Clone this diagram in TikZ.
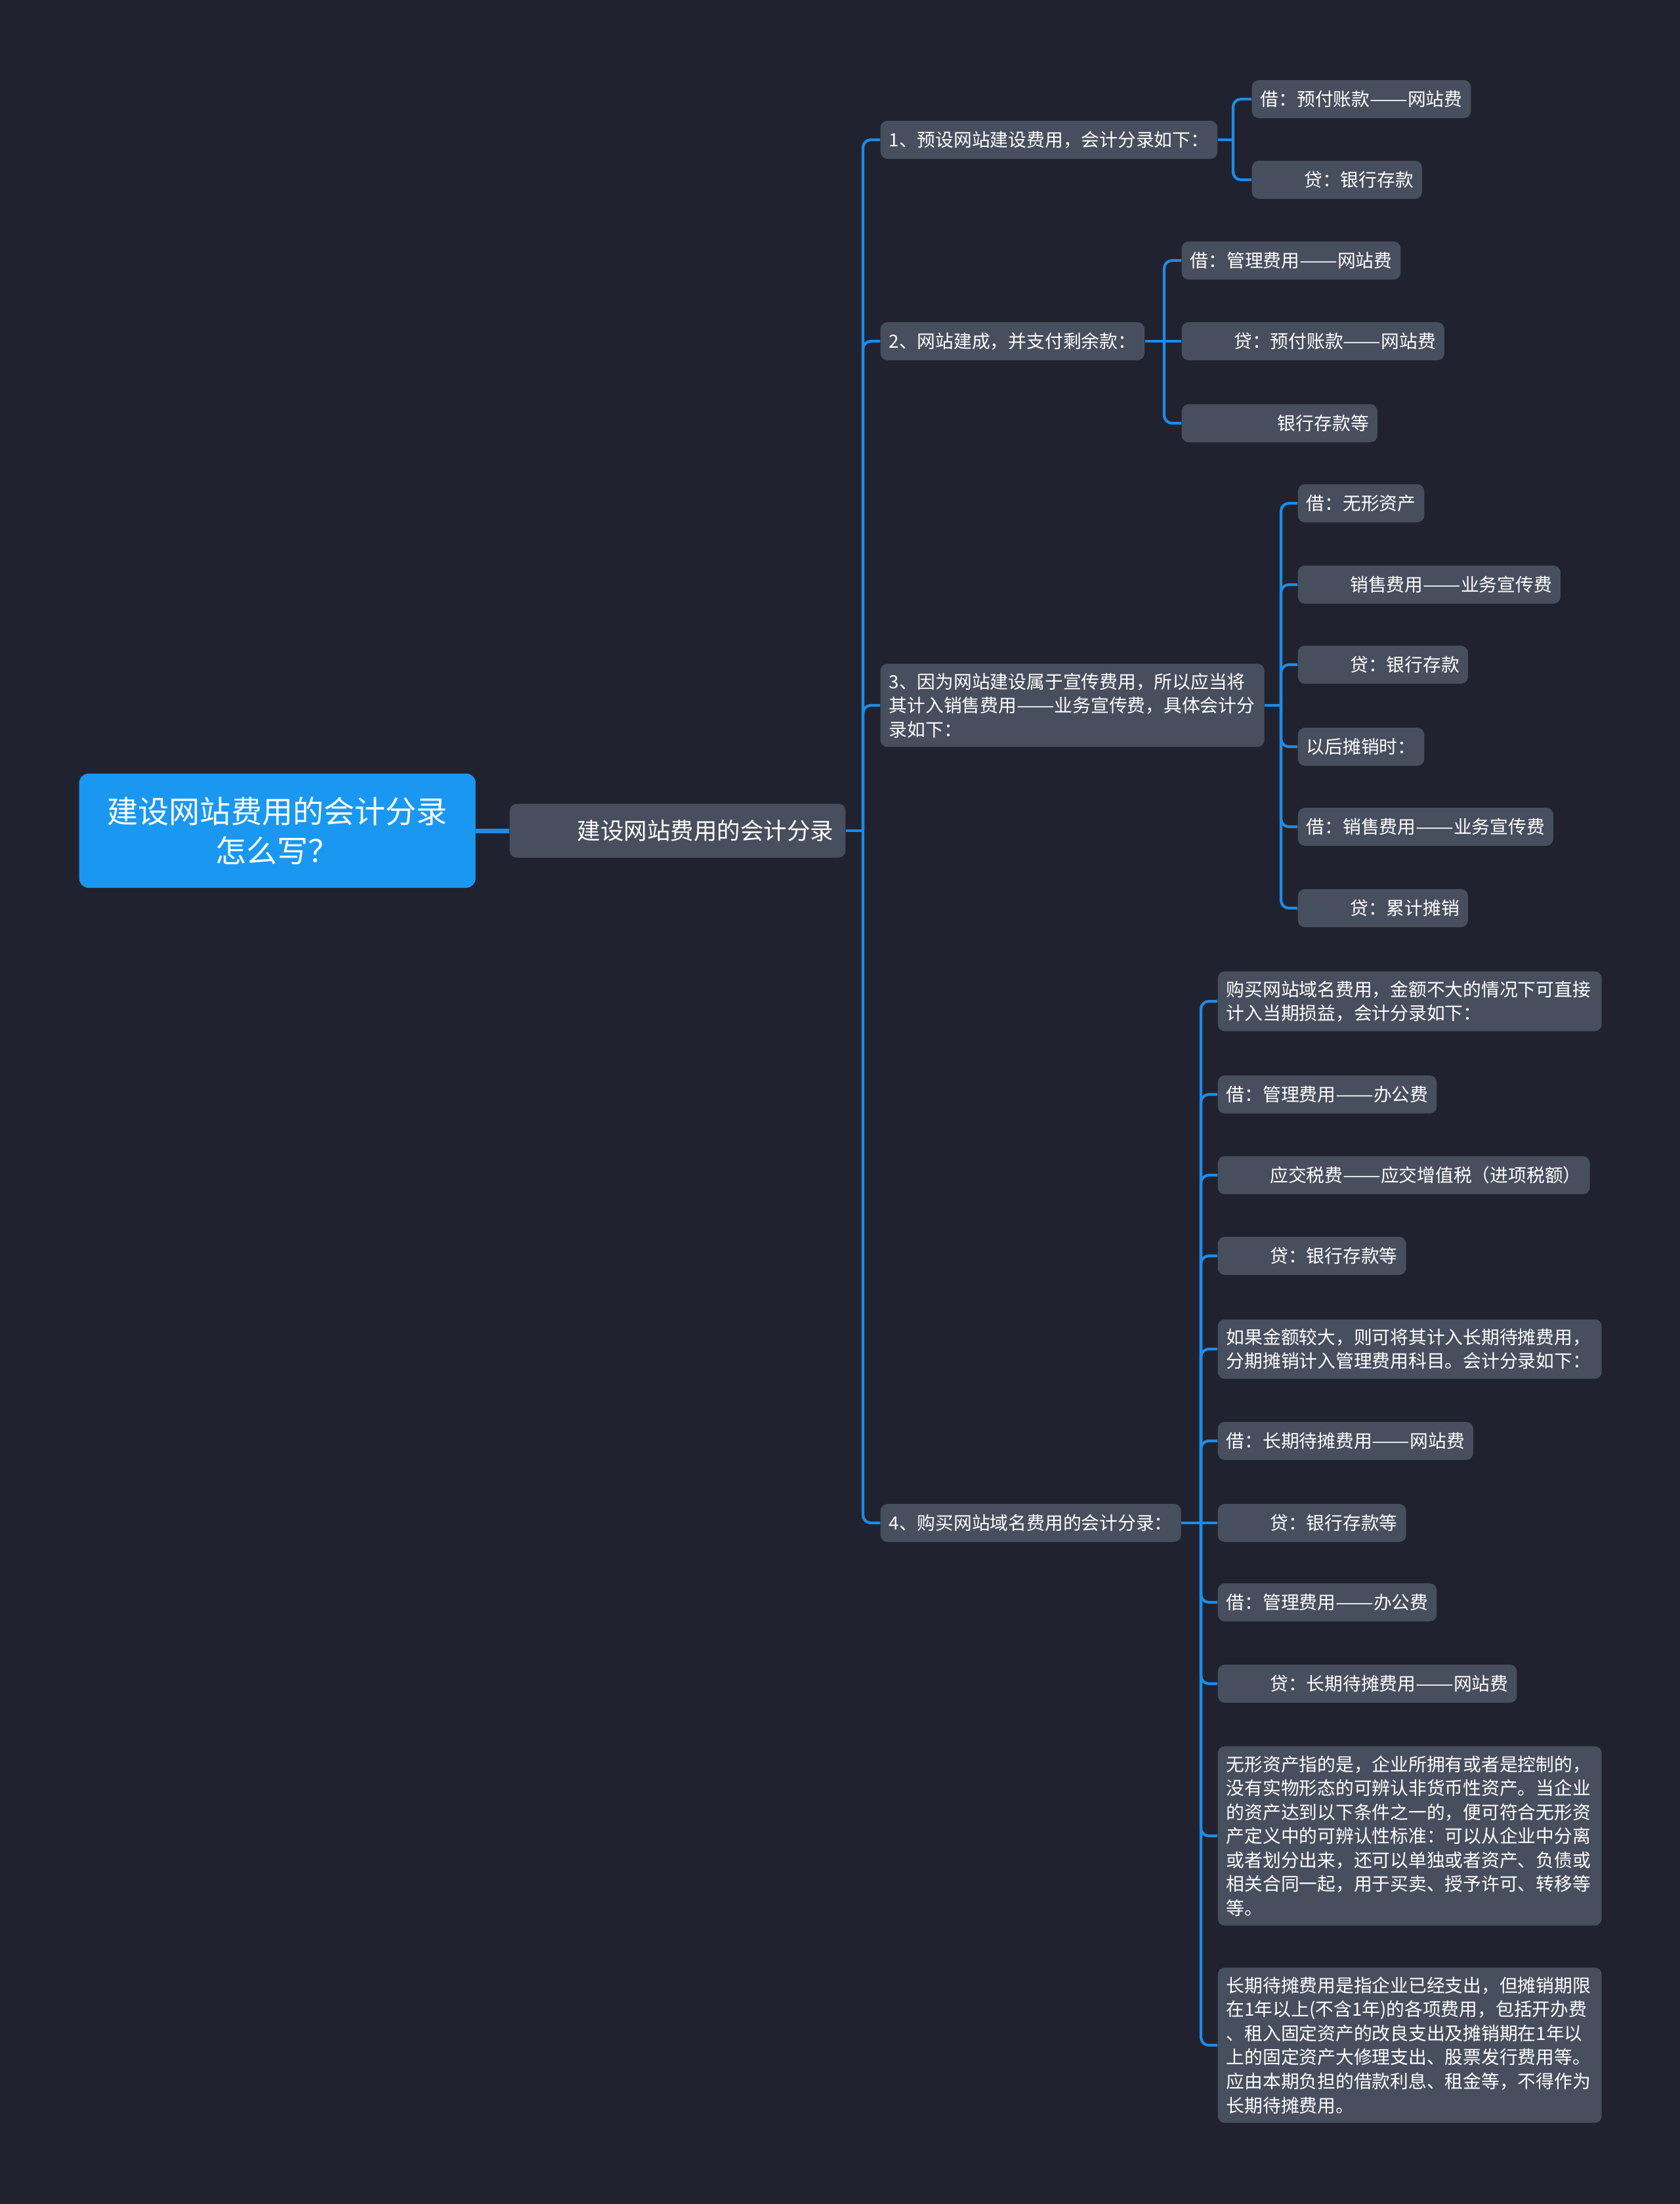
\documentclass[tikz,border=0pt]{standalone}
\usepackage{fontspec}
\setmainfont{Noto Sans CJK SC}
\usepackage{xcolor}
\usepackage{graphicx}

\definecolor{bgdark}{HTML}{20232F}
\definecolor{boxgray}{HTML}{474E5D}
\definecolor{rootblue}{HTML}{1A98F1}
\definecolor{linkblue}{HTML}{1E8BE6}
\newcommand\ldash{\scalebox{1.24}[1]{——}}

\begin{document}
\begin{tikzpicture}[
    rootbox/.style={fill=rootblue, rounded corners=4pt, text=white, anchor=west, minimum width=6.04cm, minimum height=1.74cm, align=center, font=\fontsize{13.4}{17}\selectfont},
    topic/.style={fill=boxgray, rounded corners=3pt, text=white, anchor=west, minimum height=0.82cm, inner xsep=0.18cm, font=\fontsize{10.1}{13}\selectfont},
    sub/.style={fill=boxgray, rounded corners=3pt, text=white, anchor=west, minimum height=0.58cm, inner xsep=0.13cm, inner ysep=0.14cm, font=\fontsize{7.9}{10.4}\selectfont},
    para/.style={sub, text width=5.59cm, align=left},
    link/.style={draw=linkblue, line width=1.2pt, rounded corners=0.12cm}
]
\useasboundingbox (0,0) rectangle (25.6,-33.59);
\fill[bgdark] (0,0) rectangle (25.6,-33.59);

% root and main topic
\node[rootbox] (root) at (1.20,-12.66) {建设网站费用的会计分录\\怎么写？};
\node[topic] (topic) at (7.76,-12.66) {\hspace*{2.4em}建设网站费用的会计分录};
\coordinate (spine) at (13.15,-12.66);

% four steps
\node[sub] (p1) at (13.41,-2.13) {1、预设网站建设费用，会计分录如下：};
\node[sub] (p2) at (13.41,-5.20) {2、网站建成，并支付剩余款：};
\node[para] (p3) at (13.41,-10.75) {3、因为网站建设属于宣传费用，所以应当将\\其计入销售费用\ldash 业务宣传费，具体会计分\\录如下：};
\node[sub] (p4) at (13.41,-23.21) {4、购买网站域名费用的会计分录：};

% step 1
\coordinate (b1) at (18.79,-2.13);
\node[sub] (a11) at (19.07,-1.51) {借：预付账款\ldash 网站费};
\node[sub] (a12) at (19.07,-2.74) {\hspace*{2.4em}贷：银行存款};

% step 2
\coordinate (b2) at (17.74,-5.20);
\node[sub] (a21) at (18.00,-3.97) {借：管理费用\ldash 网站费};
\node[sub] (a22) at (18.00,-5.20) {\hspace*{2.4em}贷：预付账款\ldash 网站费};
\node[sub] (a23) at (18.00,-6.45) {\hspace*{4.8em}银行存款等};

% step 3
\coordinate (b3) at (19.52,-10.75);
\node[sub] (a31) at (19.77,-7.67) {借：无形资产};
\node[sub] (a32) at (19.77,-8.91) {\hspace*{2.4em}销售费用\ldash 业务宣传费};
\node[sub] (a33) at (19.77,-10.13) {\hspace*{2.4em}贷：银行存款};
\node[sub] (a34) at (19.77,-11.38) {以后摊销时：};
\node[sub] (a35) at (19.77,-12.60) {借：销售费用\ldash 业务宣传费};
\node[sub] (a36) at (19.77,-13.84) {\hspace*{2.4em}贷：累计摊销};

% step 4
\coordinate (b4) at (18.30,-23.21);
\node[para] (a41) at (18.55,-15.26) {购买网站域名费用，金额不大的情况下可直接\\计入当期损益，会计分录如下：};
\node[sub] (a42) at (18.55,-16.68) {借：管理费用\ldash 办公费};
\node[sub] (a43) at (18.55,-17.91) {\hspace*{2.4em}应交税费\ldash 应交增值税（进项税额）};
\node[sub] (a44) at (18.55,-19.14) {\hspace*{2.4em}贷：银行存款等};
\node[para] (a45) at (18.55,-20.56) {如果金额较大，则可将其计入长期待摊费用，\\分期摊销计入管理费用科目。会计分录如下：};
\node[sub] (a46) at (18.55,-21.96) {借：长期待摊费用\ldash 网站费};
\node[sub] (a47) at (18.55,-23.21) {\hspace*{2.4em}贷：银行存款等};
\node[sub] (a48) at (18.55,-24.42) {借：管理费用\ldash 办公费};
\node[sub] (a49) at (18.55,-25.66) {\hspace*{2.4em}贷：长期待摊费用\ldash 网站费};
\node[para] (a50) at (18.55,-27.98) {无形资产指的是，企业所拥有或者是控制的，\\没有实物形态的可辨认非货币性资产。当企业\\的资产达到以下条件之一的，便可符合无形资\\产定义中的可辨认性标准：可以从企业中分离\\或者划分出来，还可以单独或者资产、负债或\\相关合同一起，用于买卖、授予许可、转移等\\等。};
\node[para] (a51) at (18.55,-31.17) {长期待摊费用是指企业已经支出，但摊销期限\\在1年以上(不含1年)的各项费用，包括开办费\\、租入固定资产的改良支出及摊销期在1年以\\上的固定资产大修理支出、股票发行费用等。\\应由本期负担的借款利息、租金等，不得作为\\长期待摊费用。};

% connectors
\draw[link, line width=2pt] (root.east) -- (topic.west);
\draw[link] (topic.east) -- (spine);
\draw[link] (spine) |- (p1.west);
\draw[link] (spine) |- (p2.west);
\draw[link] (spine) |- (p3.west);
\draw[link] (spine) |- (p4.west);

\draw[link] (p1.east) -- (b1);
\draw[link] (b1) |- (a11.west);
\draw[link] (b1) |- (a12.west);

\draw[link] (p2.east) -- (b2);
\draw[link] (b2) |- (a21.west);
\draw[link] (b2) -- (a22.west);
\draw[link] (b2) |- (a23.west);

\draw[link] (p3.east) -- (b3);
\draw[link] (b3) |- (a31.west);
\draw[link] (b3) |- (a32.west);
\draw[link] (b3) |- (a33.west);
\draw[link] (b3) |- (a34.west);
\draw[link] (b3) |- (a35.west);
\draw[link] (b3) |- (a36.west);

\draw[link] (p4.east) -- (b4);
\draw[link] (b4) |- (a41.west);
\draw[link] (b4) |- (a42.west);
\draw[link] (b4) |- (a43.west);
\draw[link] (b4) |- (a44.west);
\draw[link] (b4) |- (a45.west);
\draw[link] (b4) |- (a46.west);
\draw[link] (b4) -- (a47.west);
\draw[link] (b4) |- (a48.west);
\draw[link] (b4) |- (a49.west);
\draw[link] (b4) |- (a50.west);
\draw[link] (b4) |- (a51.west);

\end{tikzpicture}
\end{document}
